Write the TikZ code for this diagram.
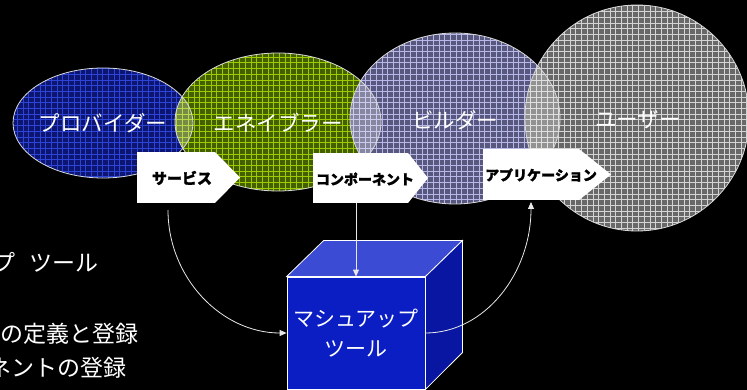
\documentclass[tikz,border=0pt]{standalone}
\usepackage{fontspec}
\setmainfont{Noto Sans CJK JP}
\newfontfamily\tagfont[FakeBold=1.5]{Noto Sans CJK JP}
\usetikzlibrary{arrows.meta,calc}
\definecolor{cBlue}{HTML}{0C1670}
\definecolor{lBlue}{HTML}{2E44D8}
\definecolor{cGreen}{HTML}{435F00}
\definecolor{lGreen}{HTML}{9CCC00}
\definecolor{cBuild}{HTML}{58587E}
\definecolor{lBuild}{HTML}{B8B8E8}
\definecolor{cUser}{HTML}{686868}
\definecolor{lUser}{HTML}{D4D4D4}
\definecolor{ringgray}{HTML}{D8D8D8}
\definecolor{linegray}{HTML}{E8E8E8}
\definecolor{cFront}{HTML}{0A1EC4}
\definecolor{cTop}{HTML}{3B4BD4}
\definecolor{cRight}{HTML}{0816A2}
\begin{document}
\begin{tikzpicture}[x=1pt,y=-1pt,
  outl/.style={draw=ringgray, line width=0.8pt},
  cell/.style 2 args={fill=#1, path picture={\draw[#2, line width=0.45pt] (path picture bounding box.south west) grid[step=5.7pt] (path picture bounding box.north east);}},
  lens/.style={fill=white, fill opacity=0.28},
  lbl/.style={text=white, font=\fontsize{21.5}{24}\selectfont, inner sep=0},
  tagbox/.style={fill=white, minimum height=51pt, inner sep=0, outer sep=0},
  tagtxt/.style={text=black, font=\fontsize{14}{16}\selectfont\tagfont\bfseries, inner sep=0},
  conn/.style={draw=linegray, line width=0.8pt, -{Triangle[length=7pt,width=6pt]}},
  side/.style={text=white, font=\fontsize{23}{26}\selectfont, inner sep=0},
  cubeface/.style={draw=white, line width=0.8pt}
]
\fill[black] (0,0) rectangle (747,390);
\useasboundingbox (0,0) rectangle (747,390);

% ellipses
\path[cell={cBlue}{lBlue}] (103,123) ellipse [x radius=90pt, y radius=55pt];
\path[cell={cGreen}{lGreen}] (278,122) ellipse [x radius=103pt, y radius=69pt];
\path[cell={cBuild}{lBuild}] (455,118.5) ellipse [x radius=105pt, y radius=85.5pt];
\path[cell={cUser}{lUser}] (637,118) ellipse [x radius=112pt, y radius=113pt];

% lenses
\begin{scope}
\clip (103,123) ellipse [x radius=90pt, y radius=55pt];
\fill[lens] (278,122) ellipse [x radius=103pt, y radius=69pt];
\end{scope}
\begin{scope}
\clip (278,122) ellipse [x radius=103pt, y radius=69pt];
\fill[lens] (455,118.5) ellipse [x radius=105pt, y radius=85.5pt];
\end{scope}
\begin{scope}
\clip (455,118.5) ellipse [x radius=105pt, y radius=85.5pt];
\fill[lens] (637,118) ellipse [x radius=112pt, y radius=113pt];
\end{scope}

% outlines
\draw[outl] (103,123) ellipse [x radius=90pt, y radius=55pt];
\draw[outl] (278,122) ellipse [x radius=103pt, y radius=69pt];
\draw[outl] (455,118.5) ellipse [x radius=105pt, y radius=85.5pt];
\draw[outl] (637,118) ellipse [x radius=112pt, y radius=113pt];

% role labels
\node[lbl] (prov) at (103,123) {プロバイダー};
\node[lbl] (enab) at (278,123) {エネイブラー};
\node[lbl] (bild) at (455,120) {ビルダー};
\node[lbl] (user) at (638,120) {ユーザー};

% tags
\node[tagbox, minimum width=78pt] (svc) at (176,177.5) {};
\fill[white] (svc.north east) -- ++(25,25.5) -- (svc.south east) -- cycle;
\node[tagtxt, font=\fontsize{15}{17}\selectfont\tagfont\bfseries] (svct) at (182,178) {サービス};

\node[tagbox, minimum width=95pt, minimum height=50pt] (cmp) at (360.5,178) {};
\fill[white] (cmp.north east) -- ++(20,25) -- (cmp.south east) -- cycle;
\node[tagtxt] (cmpt) at (365,179) {コンポーネント};

\node[tagbox, minimum width=96pt] (app) at (531,174.5) {};
\fill[white] (app.north east) -- ++(32,25.5) -- (app.south east) -- cycle;
\node[tagtxt] (appt) at (541,175) {アプリケーション};

% cube
\node[cubeface, fill=cFront, minimum width=138pt, minimum height=112pt, inner sep=0,
      text=white, font=\fontsize{21}{30}\selectfont, align=center] (cube) at (356,333) {マシュアップ\\ツール};
\filldraw[cubeface, fill=cTop] (cube.north west) -- ++(37,-36) -- ($(cube.north east)+(37,-36)$) -- (cube.north east) -- cycle;
\filldraw[cubeface, fill=cRight] (cube.north east) -- ++(37,-36) -- ++(0,112) -- (cube.south east) -- cycle;

% connectors
\draw[conn] ($(svc.south)+(-8,7)$) .. controls +(0,68) and +(-65,0) .. (cube.west);
\draw[conn] (cube.north |- cmp.south) -- (cube.north);
\draw[conn] (cube.east) .. controls +(59,0) and +(0,72) .. ($(app.south)+(0,2)$);

% side text
\node[side, anchor=base east] (s1) at (99,271.5) {プ\hspace{0.6em}ツール};
\node[side, anchor=base east] (s2) at (139,342.5) {の定義と登録};
\node[side, anchor=base east] (s3) at (127,376.5) {ネントの登録};
\end{tikzpicture}
\end{document}
